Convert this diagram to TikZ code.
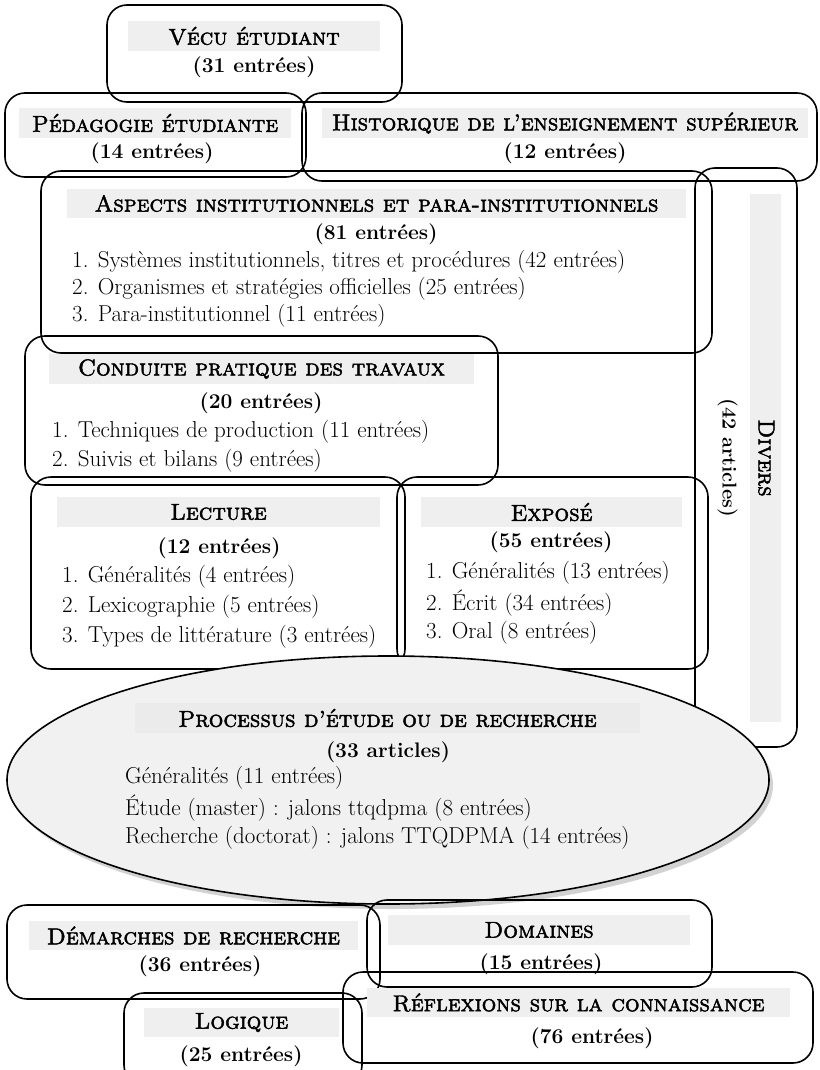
\documentclass[tikz,border=0pt]{standalone}
\usepackage{fontspec}
\newfontfamily\scb{lmromancaps10-regular.otf}[FakeBold=2]
\usetikzlibrary{shapes.geometric,shadows}
\definecolor{labgray}{HTML}{EFEFEF}
\definecolor{ellfill}{HTML}{F1F1F1}
\newcommand\titlef{\fontsize{23}{26}\selectfont\scb}
\newcommand\cntf{\fontsize{21}{25}\selectfont\bfseries}
\newcommand\itemf{\fontsize{23}{26}\selectfont}
\begin{document}
\begin{tikzpicture}[x=1pt,y=-1pt,
  frame/.style={draw, line width=1.6pt, rounded corners=20pt, inner sep=0pt},
  lab/.style={fill=labgray, inner sep=0pt, minimum height=30pt, font=\titlef},
  cnt/.style={font=\cntf, inner sep=0pt},
  item/.style={anchor=west, font=\itemf, inner sep=0pt}]
\path[use as bounding box] (0,0) rectangle (819,1070);
\clip (0,0) rectangle (819,1070);

% top boxes
\node[frame, minimum width=295pt, minimum height=97pt] (vecu) at (254.5,53.5) {};
\node[frame, minimum width=301pt, minimum height=84pt] (peda) at (155.5,135) {};
\node[frame, minimum width=515pt, minimum height=88pt] (hist) at (559.5,137) {};
\node[frame, minimum width=671pt, minimum height=182pt] (asp) at (376.5,262) {};
\node[frame, minimum width=102pt, minimum height=579pt] (div) at (746,457.5) {};
\node[frame, minimum width=473pt, minimum height=149pt] (cond) at (261.5,410.5) {};
\node[frame, minimum width=374pt, minimum height=192pt] (lect) at (218,573) {};
\node[frame, minimum width=311pt, minimum height=192pt] (expo) at (552.5,573) {};

% labels
\node[lab, minimum width=252pt] (vecuT) at (254,36) {Vécu étudiant};
\node[cnt] (vecuN) at (254,67) {(31 entrées)};
\node[lab, minimum width=272pt] (pedaT) at (155,123) {Pédagogie étudiante};
\node[cnt] (pedaN) at (152,153) {(14 entrées)};
\node[lab, minimum width=486pt] (histT) at (565,123) {Historique de l’enseignement supérieur};
\node[cnt] (histN) at (565,153) {(12 entrées)};
\node[lab, minimum width=619pt, minimum height=29pt] (aspT) at (376.5,203.5) {Aspects institutionnels et para-institutionnels};
\node[cnt] (aspN) at (376,234) {(81 entrées)};
\node[item] (asp1) at (72,262) {1. Systèmes institutionnels, titres et procédures (42 entrées)};
\node[item] (asp2) at (72,289) {2. Organismes et stratégies officielles (25 entrées)};
\node[item] (asp3) at (72,316) {3. Para-institutionnel (11 entrées)};

\node[fill=labgray, inner sep=0pt, minimum width=31pt, minimum height=528pt] (divB) at (765.5,458) {};
\node[rotate=-90, align=center, inner sep=0pt, font=\fontsize{20}{36}\selectfont\bfseries] (divT) at (746,458) {{\titlef Divers}\\(42 articles)};

\node[lab, minimum width=425pt] (condT) at (261.5,369) {Conduite pratique des travaux};
\node[cnt] (condN) at (261,403) {(20 entrées)};
\node[item] (cond1) at (52,432) {1. Techniques de production (11 entrées)};
\node[item] (cond2) at (52,461) {2. Suivis et bilans (9 entrées)};

\node[lab, minimum width=323pt] (lectT) at (218.5,512) {Lecture};
\node[cnt] (lectN) at (219,548) {(12 entrées)};
\node[item] (lect1) at (62,577) {1. Généralités (4 entrées)};
\node[item] (lect2) at (62,607) {2. Lexicographie (5 entrées)};
\node[item] (lect3) at (62,637) {3. Types de littérature (3 entrées)};

\node[lab, minimum width=261pt] (expoT) at (551.5,512) {Exposé};
\node[cnt] (expoN) at (551,542) {(55 entrées)};
\node[item] (expo1) at (426,573) {1. Généralités (13 entrées)};
\node[item] (expo2) at (426,603) {2. Écrit (34 entrées)};
\node[item] (expo3) at (426,633) {3. Oral (8 entrées)};

% ellipse
\node[ellipse, draw, line width=1.6pt, fill=ellfill, inner sep=0pt,
      minimum width=762pt, minimum height=248pt,
      drop shadow={shadow xshift=4pt, shadow yshift=-5pt, fill=black!35}] (proc) at (388,780) {};
\node[lab, minimum width=505pt, fill=black!8] (procT) at (387.5,718) {Processus d’étude ou de recherche};
\node[cnt] (procN) at (388,752) {(33 articles)};
\node[item] (proc1) at (125,778) {Généralités (11 entrées)};
\node[item] (proc2) at (125,808) {Étude (master) : jalons ttqdpma (8 entrées)};
\node[item] (proc3) at (125,838) {Recherche (doctorat) : jalons TTQDPMA (14 entrées)};

% bottom boxes
\node[frame, minimum width=373pt, minimum height=94pt] (dem) at (193.5,952) {};
\node[frame, minimum width=345pt, minimum height=87pt] (dom) at (539.5,943.5) {};
\node[frame, minimum width=238pt, minimum height=92pt] (log) at (243,1039) {};
\node[frame, minimum width=470pt, minimum height=91pt] (refl) at (578,1017.5) {};

\node[lab, minimum width=329pt, minimum height=29pt] (demT) at (193.5,935.5) {Démarches de recherche};
\node[cnt] (demN) at (200,966) {(36 entrées)};
\node[lab, minimum width=302pt] (domT) at (539,930) {Domaines};
\node[cnt] (domN) at (541,964) {(15 entrées)};
\node[lab, minimum width=195pt, minimum height=29pt] (logT) at (241.5,1022.5) {Logique};
\node[cnt] (logN) at (241,1056) {(25 entrées)};
\node[lab, minimum width=423pt, minimum height=29pt] (reflT) at (578.5,1002.5) {Réflexions sur la connaissance};
\node[cnt] (reflN) at (592,1038) {(76 entrées)};
\end{tikzpicture}
\end{document}
